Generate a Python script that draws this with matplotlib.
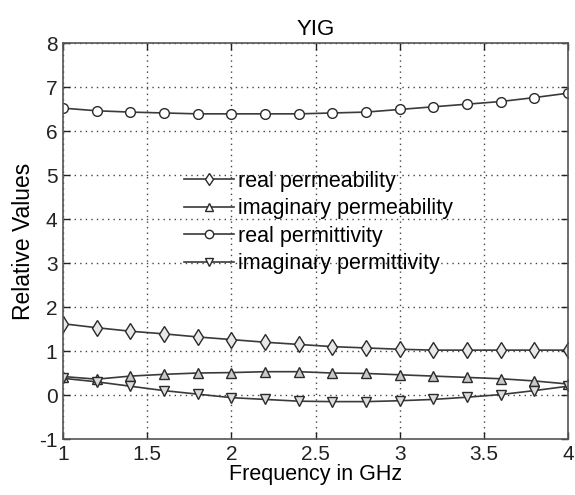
import matplotlib
matplotlib.use("Agg")
import matplotlib.pyplot as plt

freq = [1.0, 1.2, 1.4, 1.6, 1.8, 2.0, 2.2, 2.4, 2.6, 2.8, 3.0, 3.2, 3.4, 3.6, 3.8, 4.0]
real_permeability = [1.62, 1.53, 1.45, 1.39, 1.32, 1.26, 1.20, 1.15, 1.10, 1.07, 1.04, 1.02, 1.02, 1.02, 1.02, 1.02]
imag_permeability = [0.42, 0.36, 0.43, 0.47, 0.50, 0.51, 0.53, 0.53, 0.50, 0.49, 0.46, 0.43, 0.40, 0.37, 0.32, 0.25]
real_permittivity = [6.52, 6.46, 6.43, 6.41, 6.39, 6.39, 6.39, 6.39, 6.41, 6.43, 6.49, 6.55, 6.61, 6.67, 6.76, 6.86]
imag_permittivity = [0.38, 0.30, 0.20, 0.10, 0.02, -0.06, -0.10, -0.14, -0.15, -0.15, -0.13, -0.10, -0.05, 0.01, 0.10, 0.20]

xticks = [1, 1.5, 2, 2.5, 3, 3.5, 4]
xticklabels = ["1", "1.5", "2", "2.5", "3", "3.5", "4"]
yticks = [-1, 0, 1, 2, 3, 4, 5, 6, 7, 8]

plt.rcParams['font.family'] = ['Liberation Sans', 'DejaVu Sans']
plt.rcParams['axes.unicode_minus'] = False

fig = plt.figure(figsize=(5.75, 4.95), dpi=100)
ax = fig.add_axes([0.1096, 0.1131, 0.8782, 0.8000])

lc = '#3a3a3a'
common = dict(color=lc, lw=1.2, mec='#2a2a2a', mew=1.0)
ax.plot(freq, real_permeability, marker='d', ms=8, mfc='#e8e8e8', label='real permeability', **common)
ax.plot(freq, imag_permeability, marker='^', ms=7, mfc='#c8c8c8', label='imaginary permeability', **common)
ax.plot(freq, real_permittivity, marker='o', ms=7, mfc='white', label='real permittivity', **common)
ax.plot(freq, imag_permittivity, marker='v', ms=7, mfc='#dcdcdc', label='imaginary permittivity', **common)

ax.set_xlim(1, 4)
ax.set_ylim(-1, 8)
ax.set_xticks(xticks)
ax.set_xticklabels(xticklabels)
ax.set_yticks(yticks)
ax.tick_params(direction='in', top=True, right=True, labelsize=15, length=5, width=1, colors='#222222', pad=4)
ax.grid(True, linestyle=(0, (1, 3)), color='#444444', lw=1.0)
for s in ax.spines.values():
    s.set_color('#555555')
    s.set_linewidth(1.2)

ax.set_title('YIG', fontsize=16, pad=6)
ax.set_xlabel('Frequency in GHz', fontsize=15.5, labelpad=0)
ax.set_ylabel('Relative Values', fontsize=16.5, labelpad=3)

leg = ax.legend(loc='upper left', bbox_to_anchor=(0.21, 0.715), frameon=False, fontsize=15.5,
                handlelength=2.3, handletextpad=0.2, labelspacing=0.3, borderpad=0.2)
for h in leg.legend_handles:
    h.set_markerfacecolor('white')
    h.set_markersize(6)

fig.savefig('out.png', dpi=100)
